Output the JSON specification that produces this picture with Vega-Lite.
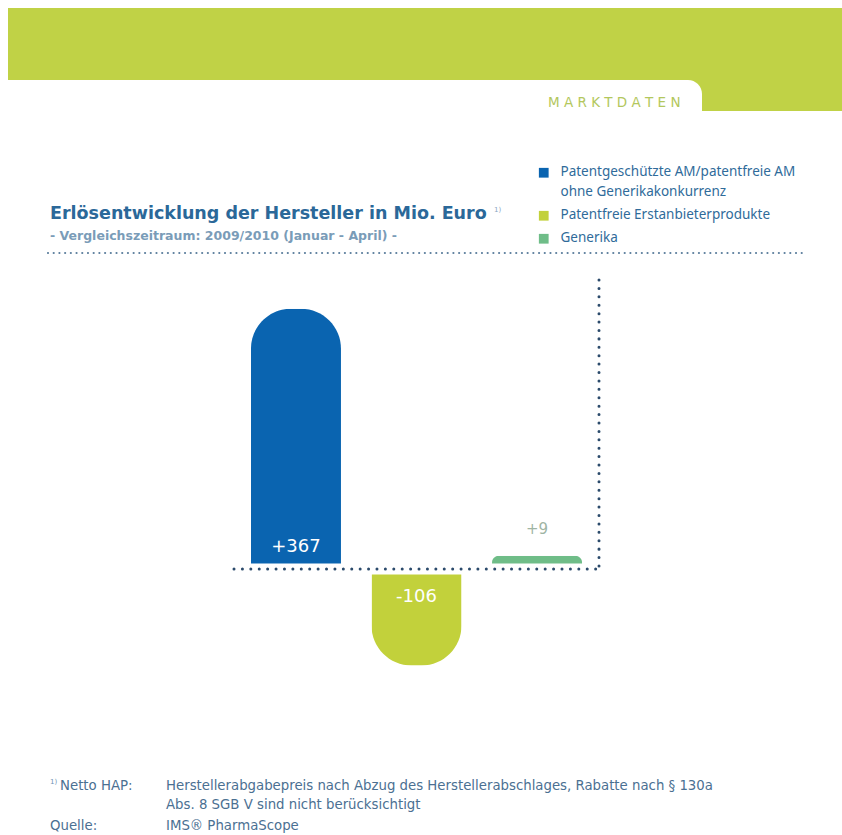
{
  "$schema": "https://vega.github.io/schema/vega-lite/v6.json",
  "width": 842,
  "height": 835,
  "autosize": "none",
  "padding": 0,
  "background": "white",
  "config": {"view": {"stroke": null}},
  "data": {"values": [{}]},
  "resolve": {"scale": {"x": "independent", "y": "independent"}},
  "layer": [
    {
      "mark": {"type": "rect", "fill": "#c0d246"},
      "encoding": {
        "x": {"datum": 8, "type": "quantitative", "scale": {"domain": [0, 842], "nice": false, "zero": false}, "axis": null},
        "x2": {"datum": 842},
        "y": {"datum": 8, "type": "quantitative", "scale": {"domain": [0, 835], "reverse": true, "nice": false, "zero": false}, "axis": null},
        "y2": {"datum": 80}
      }
    },
    {
      "mark": {"type": "rect", "fill": "#c0d246"},
      "encoding": {
        "x": {"datum": 680, "type": "quantitative", "scale": {"domain": [0, 842], "nice": false, "zero": false}, "axis": null},
        "x2": {"datum": 842},
        "y": {"datum": 60, "type": "quantitative", "scale": {"domain": [0, 835], "reverse": true, "nice": false, "zero": false}, "axis": null},
        "y2": {"datum": 111}
      }
    },
    {
      "mark": {"type": "rect", "fill": "white", "cornerRadiusTopRight": 14},
      "encoding": {
        "x": {"datum": 540, "type": "quantitative", "scale": {"domain": [0, 842], "nice": false, "zero": false}, "axis": null},
        "x2": {"datum": 702},
        "y": {"datum": 80, "type": "quantitative", "scale": {"domain": [0, 835], "reverse": true, "nice": false, "zero": false}, "axis": null},
        "y2": {"datum": 125}
      }
    },
    {
      "mark": {"type": "text", "text": "M A R K T D A T E N", "align": "left", "baseline": "alphabetic", "font": "DejaVu Sans", "fontSize": 13.5, "color": "#b3c75d"},
      "encoding": {
        "x": {"datum": 548, "type": "quantitative", "scale": {"domain": [0, 842], "nice": false, "zero": false}, "axis": null},
        "y": {"datum": 107, "type": "quantitative", "scale": {"domain": [0, 835], "reverse": true, "nice": false, "zero": false}, "axis": null}
      }
    },
    {
      "mark": {"type": "text", "text": "Erlösentwicklung der Hersteller in Mio. Euro", "align": "left", "baseline": "alphabetic", "font": "DejaVu Sans", "fontWeight": "bold", "fontSize": 17.5, "color": "#2b6899"},
      "encoding": {
        "x": {"datum": 50, "type": "quantitative", "scale": {"domain": [0, 842], "nice": false, "zero": false}, "axis": null},
        "y": {"datum": 219, "type": "quantitative", "scale": {"domain": [0, 835], "reverse": true, "nice": false, "zero": false}, "axis": null}
      }
    },
    {
      "mark": {"type": "text", "text": "1)", "align": "left", "baseline": "alphabetic", "font": "DejaVu Sans", "fontSize": 7, "color": "#8aa6bf"},
      "encoding": {
        "x": {"datum": 494, "type": "quantitative", "scale": {"domain": [0, 842], "nice": false, "zero": false}, "axis": null},
        "y": {"datum": 212, "type": "quantitative", "scale": {"domain": [0, 835], "reverse": true, "nice": false, "zero": false}, "axis": null}
      }
    },
    {
      "mark": {"type": "text", "text": "-  Vergleichszeitraum: 2009/2010 (Januar - April)  -", "align": "left", "baseline": "alphabetic", "font": "DejaVu Sans", "fontWeight": "bold", "fontSize": 12.5, "color": "#7a9cb8"},
      "encoding": {
        "x": {"datum": 50, "type": "quantitative", "scale": {"domain": [0, 842], "nice": false, "zero": false}, "axis": null},
        "y": {"datum": 240, "type": "quantitative", "scale": {"domain": [0, 835], "reverse": true, "nice": false, "zero": false}, "axis": null}
      }
    },
    {
      "mark": {"type": "rule", "stroke": "#5a7d9c", "strokeWidth": 2.2, "strokeDash": [0.01, 5.7], "strokeCap": "round"},
      "encoding": {
        "x": {"datum": 48, "type": "quantitative", "scale": {"domain": [0, 842], "nice": false, "zero": false}, "axis": null},
        "x2": {"datum": 805},
        "y": {"datum": 253, "type": "quantitative", "scale": {"domain": [0, 835], "reverse": true, "nice": false, "zero": false}, "axis": null}
      }
    },
    {
      "data": {
        "values": [
          {"kategorie": "Patentgeschützte AM/patentfreie AM ohne Generikakonkurrenz", "wert": 367, "label": "+367"},
          {"kategorie": "Patentfreie Erstanbieterprodukte", "wert": -106, "label": "-106"},
          {"kategorie": "Generika", "wert": 9, "label": "+9"}
        ]
      },
      "encoding": {
        "x": {"field": "kategorie", "type": "nominal", "axis": null,
              "sort": ["Patentgeschützte AM/patentfreie AM ohne Generikakonkurrenz", "Patentfreie Erstanbieterprodukte", "Generika"],
              "scale": {"range": [233, 600], "paddingInner": 0.2531, "paddingOuter": 0.149, "align": 0.5}},
        "y": {"field": "wert", "type": "quantitative", "axis": null,
              "scale": {"type": "pow", "exponent": 0.8, "domain": [-376.9, 975.5], "nice": false, "zero": false}},
        "color": {
          "field": "kategorie", "type": "nominal",
          "scale": {
            "domain": ["Patentgeschützte AM/patentfreie AM ohne Generikakonkurrenz", "Patentfreie Erstanbieterprodukte", "Generika"],
            "range": ["#0a64b0", "#c2d13b", "#6fbd88"]
          },
          "legend": {
            "orient": "none", "legendX": 537, "legendY": 166, "title": null,
            "symbolType": "square", "symbolSize": 95, "symbolStrokeWidth": 0,
            "labelFont": "Noto Sans", "labelFontSize": 13.5, "labelColor": "#2f6b9a",
            "labelOffset": 10, "labelBaseline": "top", "labelLimit": 400, "rowPadding": 8,
            "labelExpr": "indexof(datum.label, ' ohne') > 0 ? [substring(datum.label, 0, indexof(datum.label, ' ohne')), substring(datum.label, indexof(datum.label, ' ohne') + 1)] : datum.label",
            "encode": {"labels": {"update": {"dy": {"value": -8}, "lineHeight": {"value": 20}}}}
          }
        }
      },
      "layer": [
        {
          "transform": [{"filter": "datum.wert >= 0"}],
          "mark": {"type": "bar", "cornerRadiusTopLeft": 40, "cornerRadiusTopRight": 40}
        },
        {
          "transform": [{"filter": "datum.wert < 0"}],
          "mark": {"type": "bar", "cornerRadiusBottomLeft": 40, "cornerRadiusBottomRight": 40}
        },
        {
          "transform": [{"filter": "datum.wert > 100"}],
          "mark": {"type": "text", "dy": -22, "baseline": "middle", "font": "DejaVu Sans", "fontSize": 18},
          "encoding": {"y": {"datum": 0, "type": "quantitative"}, "text": {"field": "label"}, "color": {"value": "white"}}
        },
        {
          "transform": [{"filter": "datum.wert < 0"}],
          "mark": {"type": "text", "dy": 28, "baseline": "middle", "font": "DejaVu Sans", "fontSize": 18},
          "encoding": {"y": {"datum": 0, "type": "quantitative"}, "text": {"field": "label"}, "color": {"value": "white"}}
        },
        {
          "transform": [{"filter": "datum.wert > 0 && datum.wert < 100"}],
          "mark": {"type": "text", "dy": -27, "baseline": "middle", "font": "DejaVu Sans", "fontSize": 15},
          "encoding": {"text": {"field": "label"}, "color": {"value": "#9fb5a4"}}
        }
      ]
    },
    {
      "mark": {"type": "rule", "stroke": "white", "strokeWidth": 11},
      "encoding": {
        "x": {"datum": 240, "type": "quantitative", "scale": {"domain": [0, 842], "nice": false, "zero": false}, "axis": null},
        "x2": {"datum": 595},
        "y": {"datum": 0, "type": "quantitative", "axis": null, "scale": {"type": "pow", "exponent": 0.8, "domain": [-376.9, 975.5], "nice": false, "zero": false}}
      }
    },
    {
      "mark": {"type": "rule", "stroke": "#2b4a6b", "strokeWidth": 3, "strokeDash": [0.01, 8.4], "strokeCap": "round"},
      "encoding": {
        "x": {"datum": 234, "type": "quantitative", "scale": {"domain": [0, 842], "nice": false, "zero": false}, "axis": null},
        "x2": {"datum": 600},
        "y": {"datum": 0, "type": "quantitative", "axis": null, "scale": {"type": "pow", "exponent": 0.8, "domain": [-376.9, 975.5], "nice": false, "zero": false}}
      }
    },
    {
      "mark": {"type": "rule", "stroke": "#2b4a6b", "strokeWidth": 3, "strokeDash": [0.01, 8.4], "strokeCap": "round"},
      "encoding": {
        "x": {"datum": 599, "type": "quantitative", "scale": {"domain": [0, 842], "nice": false, "zero": false}, "axis": null},
        "y": {"datum": 280, "type": "quantitative", "scale": {"domain": [0, 835], "reverse": true, "nice": false, "zero": false}, "axis": null},
        "y2": {"datum": 566}
      }
    },
    {
      "mark": {"type": "text", "text": "1)", "align": "left", "baseline": "alphabetic", "font": "DejaVu Sans", "fontSize": 7, "color": "#6f93b3"},
      "encoding": {
        "x": {"datum": 50, "type": "quantitative", "scale": {"domain": [0, 842], "nice": false, "zero": false}, "axis": null},
        "y": {"datum": 784, "type": "quantitative", "scale": {"domain": [0, 835], "reverse": true, "nice": false, "zero": false}, "axis": null}
      }
    },
    {
      "mark": {"type": "text", "text": "Netto HAP:", "align": "left", "baseline": "alphabetic", "font": "DejaVu Sans", "fontSize": 13.3, "color": "#4b7092"},
      "encoding": {
        "x": {"datum": 60, "type": "quantitative", "scale": {"domain": [0, 842], "nice": false, "zero": false}, "axis": null},
        "y": {"datum": 790, "type": "quantitative", "scale": {"domain": [0, 835], "reverse": true, "nice": false, "zero": false}, "axis": null}
      }
    },
    {
      "mark": {"type": "text", "text": "Herstellerabgabepreis nach Abzug des Herstellerabschlages, Rabatte nach § 130a", "align": "left", "baseline": "alphabetic", "font": "DejaVu Sans", "fontSize": 13.3, "color": "#4b7092"},
      "encoding": {
        "x": {"datum": 166, "type": "quantitative", "scale": {"domain": [0, 842], "nice": false, "zero": false}, "axis": null},
        "y": {"datum": 790, "type": "quantitative", "scale": {"domain": [0, 835], "reverse": true, "nice": false, "zero": false}, "axis": null}
      }
    },
    {
      "mark": {"type": "text", "text": "Abs. 8 SGB V sind nicht berücksichtigt", "align": "left", "baseline": "alphabetic", "font": "DejaVu Sans", "fontSize": 13.3, "color": "#4b7092"},
      "encoding": {
        "x": {"datum": 166, "type": "quantitative", "scale": {"domain": [0, 842], "nice": false, "zero": false}, "axis": null},
        "y": {"datum": 809, "type": "quantitative", "scale": {"domain": [0, 835], "reverse": true, "nice": false, "zero": false}, "axis": null}
      }
    },
    {
      "mark": {"type": "text", "text": "Quelle:", "align": "left", "baseline": "alphabetic", "font": "DejaVu Sans", "fontSize": 13.3, "color": "#4b7092"},
      "encoding": {
        "x": {"datum": 50, "type": "quantitative", "scale": {"domain": [0, 842], "nice": false, "zero": false}, "axis": null},
        "y": {"datum": 830, "type": "quantitative", "scale": {"domain": [0, 835], "reverse": true, "nice": false, "zero": false}, "axis": null}
      }
    },
    {
      "mark": {"type": "text", "text": "IMS® PharmaScope", "align": "left", "baseline": "alphabetic", "font": "DejaVu Sans", "fontSize": 13.3, "color": "#4b7092"},
      "encoding": {
        "x": {"datum": 166, "type": "quantitative", "scale": {"domain": [0, 842], "nice": false, "zero": false}, "axis": null},
        "y": {"datum": 830, "type": "quantitative", "scale": {"domain": [0, 835], "reverse": true, "nice": false, "zero": false}, "axis": null}
      }
    }
  ]
}
